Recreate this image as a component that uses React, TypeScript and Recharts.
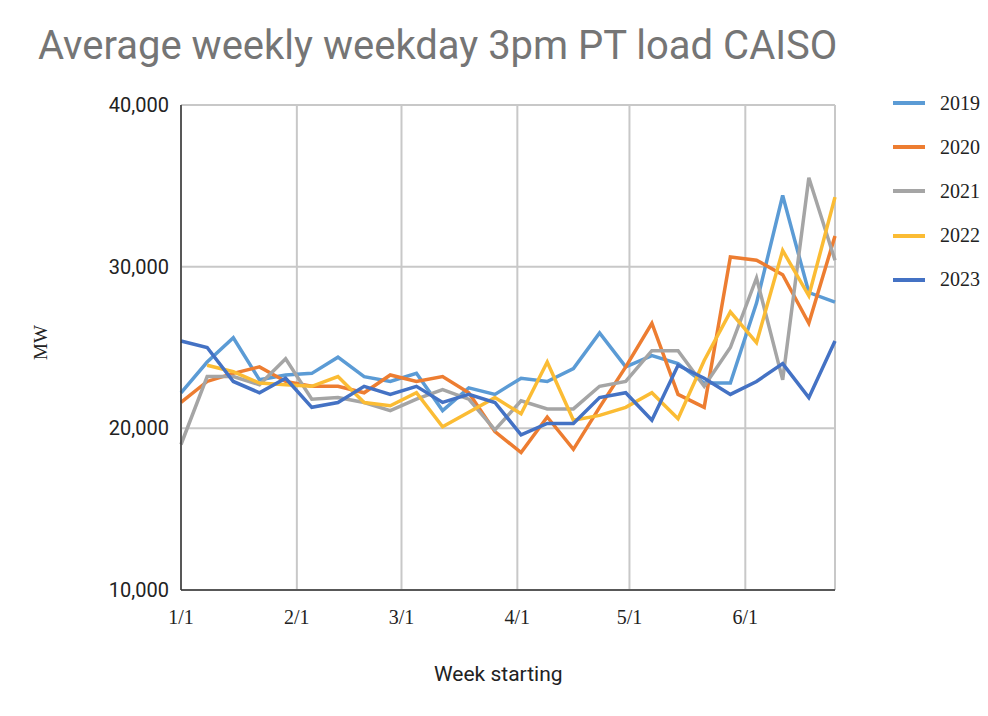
import { CartesianGrid, Line, LineChart, XAxis, YAxis } from "recharts";

// day offset from 1/1 for each weekly point
const days = Array.from({ length: 26 }, (_, i) => i * 7);

const y2019 = [22.2, 24.1, 25.6, 23.0, 23.3, 23.4, 24.4, 23.2, 22.9, 23.4, 21.1, 22.5, 22.1, 23.1, 22.9, 23.7, 25.9, 23.8, 24.5, 24.0, 22.8, 22.8, 27.75, 34.4, 28.4, 27.8];
const y2020 = [21.6, 22.9, 23.4, 23.8, 22.9, 22.6, 22.6, 22.2, 23.3, 22.9, 23.2, 22.2, 19.8, 18.5, 20.7, 18.7, 21.3, 23.8, 26.5, 22.1, 21.3, 30.6, 30.4, 29.5, 26.5, 31.9];
const y2021 = [19.0, 23.2, 23.2, 22.7, 24.3, 21.8, 21.9, 21.6, 21.1, 21.8, 22.4, 21.8, 19.9, 21.7, 21.2, 21.2, 22.6, 22.9, 24.8, 24.8, 22.6, 25.0, 29.3, 23.0, 35.5, 30.4];
const y2022 = [null, 23.9, 23.5, 22.8, 22.7, 22.6, 23.2, 21.6, 21.4, 22.2, 20.1, 21.0, 21.9, 20.9, 24.1, 20.5, 20.8, 21.3, 22.2, 20.6, 24.2, 27.2, 25.3, 31.0, 28.2, 34.3];
const y2023 = [25.4, 25.0, 22.9, 22.2, 23.1, 21.3, 21.6, 22.6, 22.1, 22.6, 21.6, 22.1, 21.6, 19.6, 20.3, 20.3, 21.9, 22.2, 20.5, 23.9, 23.1, 22.1, 22.9, 24.0, 21.9, 25.4];

const xTicks = [0, 31, 59, 90, 120, 151];
const xLabels = ["1/1", "2/1", "3/1", "4/1", "5/1", "6/1"];
const yTicks = [10000, 20000, 30000, 40000];

const series = [
  { key: "y2019", name: "2019", color: "#5b9bd5" },
  { key: "y2020", name: "2020", color: "#ed7d31" },
  { key: "y2021", name: "2021", color: "#a5a5a5" },
  { key: "y2022", name: "2022", color: "#fbbc34" },
  { key: "y2023", name: "2023", color: "#4472c4" },
];

const rows = days.map((d, i) => ({
  day: d,
  y2019: y2019[i] * 1000,
  y2020: y2020[i] * 1000,
  y2021: y2021[i] * 1000,
  y2022: y2022[i] == null ? null : (y2022[i] as number) * 1000,
  y2023: y2023[i] * 1000,
}));

const serif = "'Liberation Serif', 'DejaVu Serif', serif";
const sans = "Roboto, 'Liberation Sans', sans-serif";

export default function App() {
  return (
    <div style={{ position: "relative", width: 980, height: 708, background: "#fff" }}>
      <div style={{ position: "absolute", left: 30, top: 14, fontFamily: sans, fontSize: 40, color: "#757575" }}>
        Average weekly weekday 3pm PT load CAISO
      </div>
      <div
        style={{
          position: "absolute",
          left: 22,
          top: 352,
          fontFamily: serif,
          fontSize: 19,
          color: "#222",
          transform: "rotate(-90deg)",
          transformOrigin: "left top",
        }}
      >
        MW
      </div>
      <div style={{ position: "absolute", left: 426, top: 654, fontFamily: sans, fontSize: 21, color: "#222" }}>
        Week starting
      </div>
      <div style={{ position: "absolute", left: 885, top: 73 }}>
        {series.map((s) => (
          <div key={s.key} style={{ display: "flex", alignItems: "center", height: 44.2 }}>
            <div style={{ width: 32, height: 4, background: s.color, marginRight: 15 }} />
            <span style={{ fontFamily: serif, fontSize: 20, color: "#222" }}>{s.name}</span>
          </div>
        ))}
      </div>
      <LineChart
        width={980}
        height={708}
        data={rows}
        margin={{ top: 97, right: 153, left: 0, bottom: 96 }}
        style={{ position: "absolute", left: 0, top: 0 }}
      >
        <CartesianGrid stroke="#c8c8c8" strokeWidth={2} />
        <XAxis
          dataKey="day"
          type="number"
          domain={[0, 175]}
          ticks={xTicks}
          tickFormatter={(v: number) => xLabels[xTicks.indexOf(v)]}
          tickLine={false}
          axisLine={{ stroke: "#333", strokeWidth: 1.5 }}
          height={30}
          tick={{ fontFamily: serif, fontSize: 20, fill: "#222", dy: 12 }}
        />
        <YAxis
          domain={[10000, 40000]}
          ticks={yTicks}
          tickFormatter={(v: number) => v.toLocaleString("en-US")}
          tickLine={false}
          axisLine={{ stroke: "#333", strokeWidth: 1.5 }}
          width={173}
          tick={{ fontFamily: sans, fontSize: 20, fill: "#222", dx: -4 }}
        />
        {series.map((s) => (
          <Line
            key={s.key}
            dataKey={s.key}
            name={s.name}
            stroke={s.color}
            strokeWidth={3.5}
            dot={false}
            type="linear"
            isAnimationActive={false}
          />
        ))}
      </LineChart>
    </div>
  );
}
